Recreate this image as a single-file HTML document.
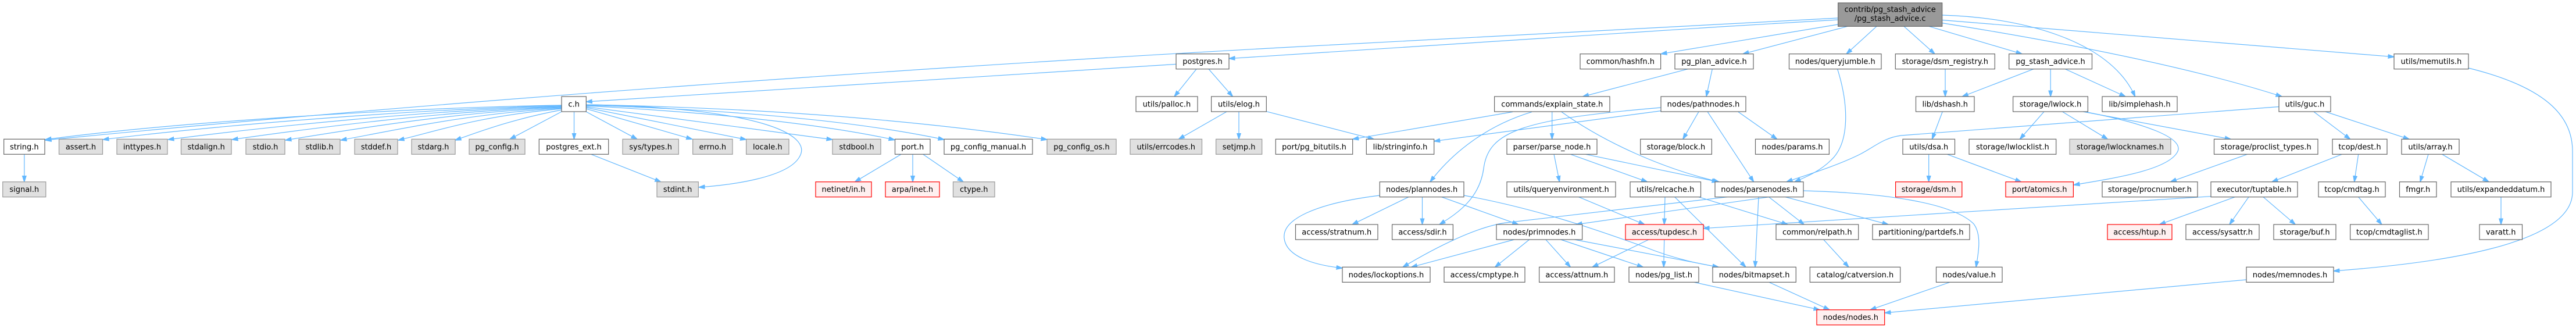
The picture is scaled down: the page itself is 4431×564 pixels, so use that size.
<!DOCTYPE html>
<html><head><meta charset="utf-8"><style>
html,body{margin:0;padding:0;background:#fff;}
svg{display:block;}
.e{fill:none;stroke:#63b8ff;stroke-width:1.2;marker-end:url(#a);}
.w{fill:#fff;stroke:#666;stroke-width:1.2;}
.g{fill:#e0e0e0;stroke:#999;stroke-width:1.2;}
.r{fill:#fff0f0;stroke:#f00;stroke-width:1.2;}
.t{fill:#999;stroke:#666;stroke-width:1.2;}
text{font-family:"DejaVu Sans","Liberation Sans",sans-serif;font-size:13px;fill:#000;text-anchor:middle;}
</style></head><body>
<svg width="4431" height="564" viewBox="0 0 4431 564" xmlns="http://www.w3.org/2000/svg">
<defs><marker id="a" markerWidth="12" markerHeight="9" refX="10.5" refY="4" orient="auto" markerUnits="userSpaceOnUse"><path d="M0,0.5 L11,4 L0,7.5 z" fill="#63b8ff" stroke="#63b8ff" stroke-width="1"/></marker></defs>
<g>
<path class="e" d="M3161.7,31 L2220,81 C1600,115 800,170 78,241"/>
<path class="e" d="M3161.7,34 L2960,46 L2114,100.7"/>
<path class="e" d="M3161.7,42 L2857,92.7"/>
<path class="e" d="M3178,45.3 L2998,92.7"/>
<path class="e" d="M3228,45.3 L3176,92.7"/>
<path class="e" d="M3275,45.3 L3328,92.7"/>
<path class="e" d="M3318,45.3 L3478,92.7"/>
<path class="e" d="M3340.7,26 C3480,30 3630,70 3672.6,166"/>
<path class="e" d="M3340.7,34.5 L4118,97.8"/>
<path class="e" d="M3340.7,39.6 Q3720,100 3925,166"/>
<path class="e" d="M2023,110.4 L1008.3,175"/>
<path class="e" d="M2058,118.7 L2020,166"/>
<path class="e" d="M2079,118.7 L2120.4,166"/>
<path class="e" d="M2110,192 L2027.4,239.3"/>
<path class="e" d="M2131,192 L2131,239.3"/>
<path class="e" d="M2178.3,191.7 L2363.3,239.3"/>
<path class="e" d="M966,181 C700,185 300,210 78,240"/>
<path class="e" d="M966,182 C720,187 380,215 177,240"/>
<path class="e" d="M966,183 C740,189 460,218 289,240"/>
<path class="e" d="M966,184 C760,191 540,220 399,240"/>
<path class="e" d="M966,185 C780,193 610,222 491,241"/>
<path class="e" d="M966,186 C800,196 680,224 586,241"/>
<path class="e" d="M966,187 C820,200 750,226 685,241"/>
<path class="e" d="M966,189 C880,205 820,228 783,241"/>
<path class="e" d="M966,192 L877,239.3"/>
<path class="e" d="M987.5,192 L987.5,239.3"/>
<path class="e" d="M1008,192 L1096,239.3"/>
<path class="e" d="M1008,187 L1190.7,239.3"/>
<path class="e" d="M1008,185 L1283.6,240"/>
<path class="e" d="M1008,183.5 L1432,240"/>
<path class="e" d="M1008,182 Q1350,200 1539,240.5"/>
<path class="e" d="M1008,181 Q1400,193 1624,240"/>
<path class="e" d="M1008,180 Q1450,188 1801,240"/>
<path class="e" d="M1008,180 C1300,185 1400,230 1375,270 C1355,305 1260,318 1202,322"/>
<path class="e" d="M1016.7,265.3 L1136.7,312.7"/>
<path class="e" d="M41.8,265.3 L41.8,312.7"/>
<path class="e" d="M1550,265.3 L1470.5,312.7"/>
<path class="e" d="M1570,265.3 L1570,312.7"/>
<path class="e" d="M1587.6,265.3 L1657,312.7"/>
<path class="e" d="M2903.3,118.7 L2722.6,166"/>
<path class="e" d="M2945.3,118.7 L2935,166"/>
<path class="e" d="M2602,192.4 L2326.7,239.3"/>
<path class="e" d="M2669.7,192.4 L2669.7,239.3"/>
<path class="e" d="M2635,192.4 C2560,215 2500,260 2460,312.7"/>
<path class="e" d="M2686,192.4 C2760,245 2860,290 2957,312.7"/>
<path class="e" d="M2857,190.6 L2466.7,242.8"/>
<path class="e" d="M2857,185 C2620,205 2560,225 2552,290 C2545,340 2510,365 2476,386"/>
<path class="e" d="M2921.8,192.4 L2894.8,239.3"/>
<path class="e" d="M2937.3,192.4 L3016.6,312.7"/>
<path class="e" d="M2990,192.4 L3056.7,239.3"/>
<path class="e" d="M2673,265.3 L2682.5,312.7"/>
<path class="e" d="M2701.4,265.3 L2833.5,312.7"/>
<path class="e" d="M2727.3,265.3 L2955,312.7"/>
<path class="e" d="M2423,338.7 L2326,386"/>
<path class="e" d="M2446.5,338.7 L2446.5,386"/>
<path class="e" d="M2479.6,338.7 L2611.7,386"/>
<path class="e" d="M2373.3,336 C2260,350 2205,378 2209,410 C2213,442 2262,456 2309,461"/>
<path class="e" d="M2518,336 C2650,360 2760,400 2830,425 C2880,445 2920,453 2956,459.3"/>
<path class="e" d="M2715.5,338.7 L2828.8,386"/>
<path class="e" d="M2864,338.7 L2862.7,386"/>
<path class="e" d="M2880.7,338.7 L3003,459.3"/>
<path class="e" d="M2922,338.7 L3075,386"/>
<path class="e" d="M2971,338.7 L2590,383 C2540,390 2470,425 2413,459.3"/>
<path class="e" d="M3043,338.7 L2711,386"/>
<path class="e" d="M3042.6,338.7 L3103.3,386"/>
<path class="e" d="M3071,338.7 L3248,386"/>
<path class="e" d="M3102,328 C3250,332 3360,350 3395,385 C3410,405 3402,440 3399,459.3"/>
<path class="e" d="M3025,338.7 L3019,459.3"/>
<path class="e" d="M2604.6,412 L2427.6,459.3"/>
<path class="e" d="M2630.6,412 L2571.6,459.3"/>
<path class="e" d="M2658.9,412 L2701.4,459.3"/>
<path class="e" d="M2684.8,412 L2826.4,459.3"/>
<path class="e" d="M2708.4,412 L2956,459.3"/>
<path class="e" d="M2835.9,412 L2739,459.3"/>
<path class="e" d="M2862.7,412 L2861.8,459.3"/>
<path class="e" d="M2913.7,485.3 L3130,532.7"/>
<path class="e" d="M3043,485.3 L3147,532.7"/>
<path class="e" d="M3354,485.3 L3217,532.7"/>
<path class="e" d="M3864,481 L3242,538"/>
<path class="e" d="M3136.7,412 L3180,459.3"/>
<path class="e" d="M3160.6,118.7 C3180,180 3182,245 3150,275 C3130,295 3105,305 3087,312.7"/>
<path class="e" d="M3346,118.7 L3346,166"/>
<path class="e" d="M3498,118.7 L3375.3,166"/>
<path class="e" d="M3527.2,118.7 L3527.2,166"/>
<path class="e" d="M3552.3,118.7 L3656,166"/>
<path class="e" d="M3341.3,192 L3323.4,239.3"/>
<path class="e" d="M3317.7,265.3 L3317.7,312.7"/>
<path class="e" d="M3349.3,265.3 L3476.7,312.7"/>
<path class="e" d="M3516,192 L3474.4,239.3"/>
<path class="e" d="M3547.5,192 L3625.4,239.3"/>
<path class="e" d="M3583,192 L3837.3,239.3"/>
<path class="e" d="M3585,192 C3690,212 3760,238 3745,262 C3728,292 3640,306 3567,318"/>
<path class="e" d="M3920,183.5 L3270,233 C3240,237 3225,252 3200,265 C3160,285 3110,300 3073,312.7"/>
<path class="e" d="M3979.8,192 L4042.6,239.3"/>
<path class="e" d="M3999.9,192 L4144,239.3"/>
<path class="e" d="M4246,117 C4380,150 4425,200 4425,260 L4425,330 C4425,420 4200,452 4014,466"/>
<path class="e" d="M3865.6,265.3 L3733.5,312.7"/>
<path class="e" d="M4028.4,265.3 L3908,312.7"/>
<path class="e" d="M4056.7,265.3 L4049.7,312.7"/>
<path class="e" d="M4177,265.3 L4163,312.7"/>
<path class="e" d="M4200.7,265.3 L4281,312.7"/>
<path class="e" d="M3844.4,338.7 L3714.6,386"/>
<path class="e" d="M3868,338.7 L3835,386"/>
<path class="e" d="M3893,338.7 L3948.2,386"/>
<path class="e" d="M3803,337.7 L2930,392.7"/>
<path class="e" d="M4056.7,338.7 L4096.9,386"/>
<path class="e" d="M4302,338.7 L4302,386"/>
</g>
<g>
<!-- top -->
<rect class="t" x="3161.7" y="5" width="179" height="40.3"/>
<text x="3251.2" y="20.5">contrib/pg_stash_advice</text>
<text x="3251.2" y="36">/pg_stash_advice.c</text>
<!-- R1 -->
<rect class="w" x="2023" y="92.7" width="91" height="26"/><text x="2068.5" y="110.2">postgres.h</text>
<rect class="w" x="2718" y="92.7" width="138.6" height="26"/><text x="2787.3" y="110.2">common/hashfn.h</text>
<rect class="w" x="2881" y="92.7" width="135" height="26"/><text x="2948.5" y="110.2">pg_plan_advice.h</text>
<rect class="w" x="3077.5" y="92.7" width="158.5" height="26"/><text x="3156.75" y="110.2">nodes/queryjumble.h</text>
<rect class="w" x="3260.3" y="92.7" width="171" height="26"/><text x="3345.8" y="110.2">storage/dsm_registry.h</text>
<rect class="w" x="3455.7" y="92.7" width="142.8" height="26"/><text x="3527.1" y="110.2">pg_stash_advice.h</text>
<rect class="w" x="4118" y="92.7" width="128" height="26"/><text x="4182" y="110.2">utils/memutils.h</text>
<!-- R2 -->
<rect class="w" x="966" y="166" width="42.3" height="26"/><text x="987.15" y="183.5">c.h</text>
<rect class="w" x="1954" y="166" width="106" height="26"/><text x="2007" y="183.5">utils/palloc.h</text>
<rect class="w" x="2083.6" y="166" width="94.7" height="26"/><text x="2131" y="183.5">utils/elog.h</text>
<rect class="w" x="2570.6" y="166" width="198.4" height="26"/><text x="2669.8" y="183.5">commands/explain_state.h</text>
<rect class="w" x="2857" y="166" width="146" height="26"/><text x="2930" y="183.5">nodes/pathnodes.h</text>
<rect class="w" x="3295.5" y="166" width="100.5" height="26"/><text x="3345.75" y="183.5">lib/dshash.h</text>
<rect class="w" x="3462.6" y="166" width="128.8" height="26"/><text x="3527" y="183.5">storage/lwlock.h</text>
<rect class="w" x="3616" y="166" width="129" height="26"/><text x="3680.5" y="183.5">lib/simplehash.h</text>
<rect class="w" x="3920" y="166" width="89" height="26"/><text x="3964.5" y="183.5">utils/guc.h</text>
<!-- R3 -->
<rect class="w" x="6.6" y="239.3" width="70.4" height="26"/><text x="41.8" y="256.8">string.h</text>
<rect class="g" x="101.5" y="239.3" width="75" height="26"/><text x="139" y="256.8">assert.h</text>
<rect class="g" x="201" y="239.3" width="87" height="26"/><text x="244.5" y="256.8">inttypes.h</text>
<rect class="g" x="311.5" y="239.3" width="86.5" height="26"/><text x="354.75" y="256.8">stdalign.h</text>
<rect class="g" x="423" y="239.3" width="67" height="26"/><text x="456.5" y="256.8">stdio.h</text>
<rect class="g" x="514" y="239.3" width="71" height="26"/><text x="549.5" y="256.8">stdlib.h</text>
<rect class="g" x="610" y="239.3" width="74" height="26"/><text x="647" y="256.8">stddef.h</text>
<rect class="g" x="708" y="239.3" width="75" height="26"/><text x="745.5" y="256.8">stdarg.h</text>
<rect class="g" x="807" y="239.3" width="96" height="26"/><text x="855" y="256.8">pg_config.h</text>
<rect class="w" x="927.3" y="239.3" width="119.4" height="26"/><text x="987" y="256.8">postgres_ext.h</text>
<rect class="g" x="1071" y="239.3" width="96.3" height="26"/><text x="1119.15" y="256.8">sys/types.h</text>
<rect class="g" x="1191.7" y="239.3" width="68.3" height="26"/><text x="1225.85" y="256.8">errno.h</text>
<rect class="g" x="1283.6" y="239.3" width="73.4" height="26"/><text x="1320.3" y="256.8">locale.h</text>
<rect class="g" x="1432" y="239.3" width="83" height="26"/><text x="1473.5" y="256.8">stdbool.h</text>
<rect class="w" x="1539.5" y="239.3" width="60.5" height="26"/><text x="1569.75" y="256.8">port.h</text>
<rect class="w" x="1624" y="239.3" width="152" height="26"/><text x="1700" y="256.8">pg_config_manual.h</text>
<rect class="g" x="1801" y="239.3" width="119" height="26"/><text x="1860.5" y="256.8">pg_config_os.h</text>
<rect class="g" x="1944" y="239.3" width="123.5" height="26"/><text x="2005.75" y="256.8">utils/errcodes.h</text>
<rect class="g" x="2091.6" y="239.3" width="79.1" height="26"/><text x="2131.15" y="256.8">setjmp.h</text>
<rect class="w" x="2194.3" y="239.3" width="132.4" height="26"/><text x="2260.5" y="256.8">port/pg_bitutils.h</text>
<rect class="w" x="2350.3" y="239.3" width="116.4" height="26"/><text x="2408.5" y="256.8">lib/stringinfo.h</text>
<rect class="w" x="2592" y="239.3" width="155" height="26"/><text x="2669.5" y="256.8">parser/parse_node.h</text>
<rect class="w" x="2821.7" y="239.3" width="122.7" height="26"/><text x="2883" y="256.8">storage/block.h</text>
<rect class="w" x="3019.5" y="239.3" width="126.9" height="26"/><text x="3083" y="256.8">nodes/params.h</text>
<rect class="w" x="3273" y="239.3" width="89.5" height="26"/><text x="3317.75" y="256.8">utils/dsa.h</text>
<rect class="w" x="3387" y="239.3" width="149.7" height="26"/><text x="3461.85" y="256.8">storage/lwlocklist.h</text>
<rect class="g" x="3560" y="239.3" width="174" height="26"/><text x="3647" y="256.8">storage/lwlocknames.h</text>
<rect class="w" x="3808.5" y="239.3" width="178.5" height="26"/><text x="3897.75" y="256.8">storage/proclist_types.h</text>
<rect class="w" x="4012" y="239.3" width="94" height="26"/><text x="4059" y="256.8">tcop/dest.h</text>
<rect class="w" x="4131" y="239.3" width="99" height="26"/><text x="4180.5" y="256.8">utils/array.h</text>
<!-- R4 -->
<rect class="g" x="4.7" y="312.7" width="74.1" height="26"/><text x="41.75" y="330.2">signal.h</text>
<rect class="g" x="1130" y="312.7" width="71.3" height="26"/><text x="1165.65" y="330.2">stdint.h</text>
<rect class="r" x="1403" y="312.7" width="96" height="26"/><text x="1451" y="330.2">netinet/in.h</text>
<rect class="r" x="1523" y="312.7" width="93" height="26"/><text x="1569.5" y="330.2">arpa/inet.h</text>
<rect class="g" x="1639.5" y="312.7" width="71.5" height="26"/><text x="1675.25" y="330.2">ctype.h</text>
<rect class="w" x="2373.3" y="312.7" width="144.7" height="26"/><text x="2445.65" y="330.2">nodes/plannodes.h</text>
<rect class="w" x="2592" y="312.7" width="187" height="26"/><text x="2685.5" y="330.2">utils/queryenvironment.h</text>
<rect class="w" x="2804" y="312.7" width="121.5" height="26"/><text x="2864.75" y="330.2">utils/relcache.h</text>
<rect class="w" x="2950" y="312.7" width="152" height="26"/><text x="3026" y="330.2">nodes/parsenodes.h</text>
<rect class="r" x="3260.6" y="312.7" width="114.2" height="26"/><text x="3317.7" y="330.2">storage/dsm.h</text>
<rect class="r" x="3450" y="312.7" width="116.4" height="26"/><text x="3508.2" y="330.2">port/atomics.h</text>
<rect class="w" x="3616" y="312.7" width="164" height="26"/><text x="3698" y="330.2">storage/procnumber.h</text>
<rect class="w" x="3803" y="312.7" width="149" height="26"/><text x="3877.5" y="330.2">executor/tuptable.h</text>
<rect class="w" x="3988" y="312.7" width="115" height="26"/><text x="4045.5" y="330.2">tcop/cmdtag.h</text>
<rect class="w" x="4127.5" y="312.7" width="63.5" height="26"/><text x="4159.25" y="330.2">fmgr.h</text>
<rect class="w" x="4216" y="312.7" width="172" height="26"/><text x="4302" y="330.2">utils/expandeddatum.h</text>
<!-- R5 -->
<rect class="w" x="2228.5" y="386" width="141.5" height="26"/><text x="2299.25" y="403.5">access/stratnum.h</text>
<rect class="w" x="2394.6" y="386" width="104.8" height="26"/><text x="2447" y="403.5">access/sdir.h</text>
<rect class="w" x="2574" y="386" width="147.6" height="26"/><text x="2647.8" y="403.5">nodes/primnodes.h</text>
<rect class="r" x="2796" y="386" width="134" height="26"/><text x="2863" y="403.5">access/tupdesc.h</text>
<rect class="w" x="3055" y="386" width="141.7" height="26"/><text x="3125.85" y="403.5">common/relpath.h</text>
<rect class="w" x="3221" y="386" width="167" height="26"/><text x="3304.5" y="403.5">partitioning/partdefs.h</text>
<rect class="r" x="3625" y="386" width="111" height="26"/><text x="3680.5" y="403.5">access/htup.h</text>
<rect class="w" x="3760" y="386" width="126" height="26"/><text x="3823" y="403.5">access/sysattr.h</text>
<rect class="w" x="3911" y="386" width="107" height="26"/><text x="3964.5" y="403.5">storage/buf.h</text>
<rect class="w" x="4042.6" y="386" width="134.4" height="26"/><text x="4109.8" y="403.5">tcop/cmdtaglist.h</text>
<rect class="w" x="4265" y="386" width="73.5" height="26"/><text x="4301.75" y="403.5">varatt.h</text>
<!-- R6 -->
<rect class="w" x="2309" y="459.3" width="151" height="26"/><text x="2384.5" y="476.8">nodes/lockoptions.h</text>
<rect class="w" x="2484" y="459.3" width="139" height="26"/><text x="2553.5" y="476.8">access/cmptype.h</text>
<rect class="w" x="2647.6" y="459.3" width="129.4" height="26"/><text x="2712.3" y="476.8">access/attnum.h</text>
<rect class="w" x="2802" y="459.3" width="120" height="26"/><text x="2862" y="476.8">nodes/pg_list.h</text>
<rect class="w" x="2946" y="459.3" width="143.3" height="26"/><text x="3017.65" y="476.8">nodes/bitmapset.h</text>
<rect class="w" x="3113.3" y="459.3" width="155.4" height="26"/><text x="3191" y="476.8">catalog/catversion.h</text>
<rect class="w" x="3330.5" y="459.3" width="113.5" height="26"/><text x="3387.25" y="476.8">nodes/value.h</text>
<rect class="w" x="3864" y="459.3" width="150" height="26"/><text x="3939" y="476.8">nodes/memnodes.h</text>
<!-- R7 -->
<rect class="r" x="3125" y="532.7" width="116.7" height="26"/><text x="3183.35" y="550.2">nodes/nodes.h</text>
</g>
</svg>
</body></html>
